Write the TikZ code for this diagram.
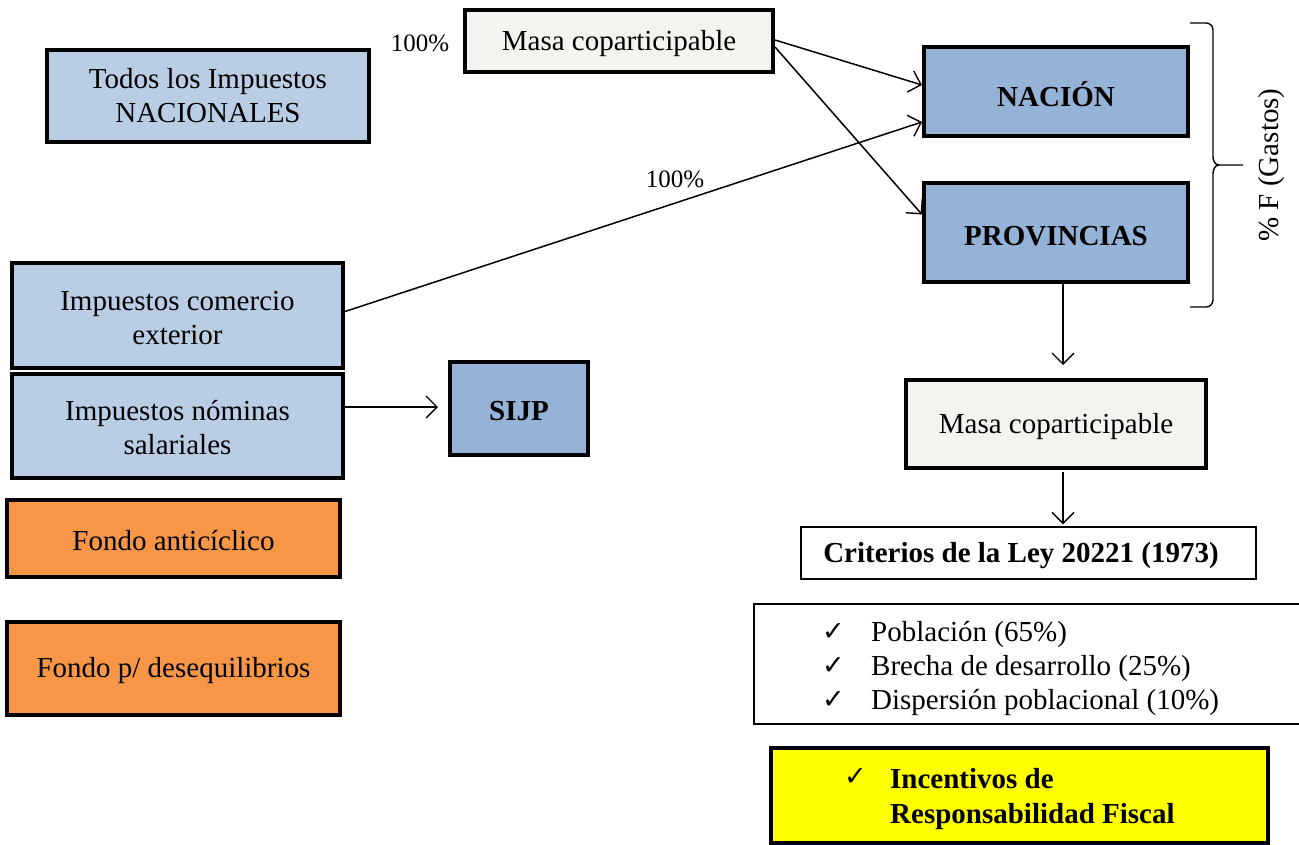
\documentclass[tikz,border=0pt]{standalone}
\usepackage{fontspec}
\setmainfont{Liberation Serif}
\newfontfamily\symfont{DejaVu Sans}
\usetikzlibrary{arrows.meta,calc}
\definecolor{lblue}{HTML}{B9CDE5}
\definecolor{mblue}{HTML}{95B3D7}
\definecolor{orng}{HTML}{F79646}
\definecolor{offw}{HTML}{F4F3EF}
\definecolor{yel}{HTML}{FFFF00}
\newcommand{\chk}{{\symfont\fontsize{27}{30}\selectfont ✓}}
\tikzset{
  base/.style={draw=black, rectangle, align=center, inner sep=0pt,
    font=\fontsize{29}{34}\selectfont},
  thickbox/.style={base, line width=4pt},
  thinbox/.style={base, line width=1.2pt, fill=white},
  lb/.style={thickbox, fill=lblue},
  mb/.style={thickbox, fill=mblue, font=\fontsize{29}{34}\selectfont\bfseries},
  ob/.style={thickbox, fill=orng},
  wb/.style={thickbox, fill=offw},
  arr/.style={-{Straight Barb[length=11pt,width=22pt,line width=1.4pt]}, line width=1.5pt},
  lbl/.style={font=\fontsize{25}{30}\selectfont, inner sep=0pt}
}
\begin{document}
\begin{tikzpicture}[x=1pt,y=-1pt]
\useasboundingbox (0,0) rectangle (1299,844);
% nodes
\node[lb, minimum width=322, minimum height=92] (todos) at (208,96) {Todos los Impuestos\\NACIONALES};
\node[wb, minimum width=308, minimum height=62] (masa1) at (619,41) {};
\node[base, draw=none] (masa1t) at (619,44) {Masa coparticipable};
\node[mb, minimum width=264, minimum height=89] (nacion) at (1056,91) {};
\node[base, draw=none, font=\fontsize{29}{34}\selectfont\bfseries] (naciont) at (1056,94) {NACIÓN};
\node[mb, minimum width=264, minimum height=99] (prov) at (1056,232.5) {};
\node[base, draw=none, font=\fontsize{29}{34}\selectfont\bfseries] (provt) at (1056,236) {PROVINCIAS};
\node[lb, minimum width=331, minimum height=105] (comercio) at (177.5,315.5) {};
\node[base, draw=none] (comerciot) at (177.5,318) {Impuestos comercio\\exterior};
\node[lb, minimum width=331, minimum height=104] (nominas) at (177.5,426) {};
\node[base, draw=none] (nominast) at (177.5,428) {Impuestos nóminas\\salariales};
\node[mb, minimum width=138, minimum height=93] (sijp) at (519,408.5) {};
\node[base, draw=none, font=\fontsize{29}{34}\selectfont\bfseries] (sijpt) at (519,411) {SIJP};
\node[ob, minimum width=333, minimum height=77] (anti) at (173.5,538.5) {};
\node[base, draw=none] (antit) at (173.5,541) {Fondo anticíclico};
\node[ob, minimum width=333, minimum height=93] (deseq) at (173.5,668.5) {};
\node[base, draw=none] (deseqt) at (173.5,671) {Fondo p/ desequilibrios};
\node[wb, minimum width=300, minimum height=88] (masa2) at (1056,424) {};
\node[base, draw=none] (masa2t) at (1056,427) {Masa coparticipable};
\node[thinbox, minimum width=455, minimum height=52] (crit) at (1028.5,553) {};
\node[base, draw=none, font=\fontsize{29}{34}\selectfont\bfseries] (critt) at (1021,556) {Criterios de la Ley 20221 (1973)};
\node[thinbox, minimum width=546, minimum height=120] (lista) at (1027,664) {};
\node[anchor=base west, base, draw=none, inner sep=0pt] (l1) at (871,641) {Población (65\%)};
\node[anchor=base west, base, draw=none, inner sep=0pt] (l2) at (871,675) {Brecha de desarrollo (25\%)};
\node[anchor=base west, base, draw=none, inner sep=0pt] (l3) at (871,709) {Dispersión poblacional (10\%)};
\node[anchor=base west, inner sep=0pt] (c1) at (822,640) {\chk};
\node[anchor=base west, inner sep=0pt] (c2) at (822,674) {\chk};
\node[anchor=base west, inner sep=0pt] (c3) at (822,708) {\chk};
\node[thickbox, fill=yel, minimum width=497, minimum height=95] (incent) at (1019.5,795) {};
\node[anchor=base west, base, draw=none, font=\fontsize{29}{34}\selectfont\bfseries] (y1) at (890,788) {Incentivos de};
\node[anchor=base west, base, draw=none, font=\fontsize{29}{34}\selectfont\bfseries] (y2) at (890,823) {Responsabilidad Fiscal};
\node[anchor=base west, inner sep=0pt] (c4) at (844,785) {\chk};
% labels
\node[lbl, anchor=base] (p1) at (420,51) {100\%};
\node[lbl, anchor=base] (p2) at (675,187) {100\%};
% brace
\coordinate (bt) at (1190,23);
\coordinate (bm) at (1243,165);
\coordinate (bb) at (1190,307);
\draw[line width=1.4pt, line join=round]
  (bt) -- ++(16,0) to[out=0,in=90] ++(7,7) -- (1213,156)
  to[out=-90,in=180] ++(6,9) -- (bm);
\draw[line width=1.4pt, line join=round]
  (bb) -- ++(16,0) to[out=0,in=-90] ++(7,-7) -- (1213,174)
  to[out=90,in=180] ++(6,-9);
\node[lbl, rotate=90, font=\fontsize{29}{34}\selectfont] (gastos) at (1272,165) {\% F (Gastos)};
% connectors
\draw[arr] ($(masa1.east)+(0,-1)$) -- ($(nacion.west)+(0,-6)$);
\draw[arr] ($(masa1.east)+(0,6)$) -- ($(prov.west)+(0,-18)$);
\draw[arr] ($(comercio.east)+(0,-4)$) -- ($(nacion.west)+(0,31)$);
\draw[arr, shorten >=10pt] ($(nominas.east)+(0,-19)$) -- ($(sijp.west)+(0,-1.5)$);
\draw[arr, shorten >=13pt] ($(prov.south)+(7,0)$) -- ($(masa2.north)+(7,0)$);
\draw[arr, shorten >=2pt, shorten <=2pt] ($(masa2.south)+(7,0)$) -- ($(crit.north)+(34.5,0)$);
\end{tikzpicture}
\end{document}
